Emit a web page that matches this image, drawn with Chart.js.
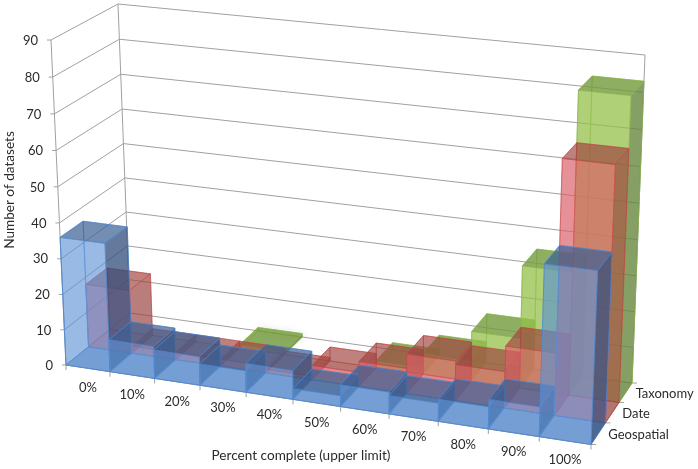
<!DOCTYPE html>
<html><head><meta charset="utf-8">
<style>html,body{margin:0;padding:0;background:#fff}canvas{display:block}</style>
<script src="https://cdn.jsdelivr.net/npm/chart.js@4"></script>
</head><body><canvas id="c" width="698" height="469"></canvas>
<script>
const categories=['0%','10%','20%','30%','40%','50%','60%','70%','80%','90%','100%'];
const depthLabels=['Geospatial','Date','Taxonomy'];
const geospatial=[36,9,8,6,8,3,6,5,6,8,46];
const date=[18,2,2,2,1,4,7,11,10,17,69];
const taxonomy=[0,0,0,1,0,0,2,6,14,34,83];
const valueTicksMax=90, valueTickStep=10;
const xTitle='Percent complete (upper limit)';
const yTitle='Number of datasets';
const FONT='13px Lato';
const TEXT='#2b2b2b';
const GRID='#a0a0a0';
// projection corners of the 3D box
const C={fl0:[66,365],fr0:[591,444.5],bl0:[130,313],br0:[632,383],fl1:[51,40],fr1:[604,99],bl1:[118,4],br1:[645,55]};
const warp=(t,k)=>t/(t+k*(1-t));
function project(u,v,z){
  const a=warp(u,1.094),b=warp(v,1.03),c=warp(z,0.92);
  const f=i=>{
    const f0=C.fl0[i]+(C.fr0[i]-C.fl0[i])*a,b0=C.bl0[i]+(C.br0[i]-C.bl0[i])*a;
    const f1=C.fl1[i]+(C.fr1[i]-C.fl1[i])*a,b1=C.bl1[i]+(C.br1[i]-C.bl1[i])*a;
    const p0=f0+(b0-f0)*c,p1=f1+(b1-f1)*c;
    return p0+(p1-p0)*b;
  };
  return [f(0),f(1)];
}
const palette={
 Geospatial:{front:'rgba(100,155,225,.5)',top:'rgba(62,95,145,.62)',side:'rgba(50,75,120,.68)',hidden:'rgba(60,105,165,.25)',bottom:'rgba(60,105,165,.62)',edge:'rgba(80,135,205,.6)'},
 Date:{front:'rgba(222,95,105,.55)',top:'rgba(150,65,60,.55)',side:'rgba(140,60,55,.55)',hidden:'rgba(200,85,85,.28)',bottom:'rgba(190,80,80,.4)',edge:'rgba(200,70,70,.5)'},
 Taxonomy:{front:'rgba(150,195,75,.68)',top:'rgba(115,155,60,.75)',side:'rgba(100,130,60,.72)',hidden:'rgba(140,175,80,.25)',bottom:'rgba(130,165,80,.35)',edge:'rgba(140,180,80,.6)'}
};
function poly(ctx,pts,fill,edge){
  ctx.beginPath();pts.forEach((p,i)=>i?ctx.lineTo(p[0],p[1]):ctx.moveTo(p[0],p[1]));ctx.closePath();
  ctx.fillStyle=fill;ctx.fill();ctx.strokeStyle=edge;ctx.lineWidth=1;ctx.stroke();
}
function line(ctx,a,b){ctx.beginPath();ctx.moveTo(a[0],a[1]);ctx.lineTo(b[0],b[1]);ctx.stroke();}
const box3d={
 id:'box3d',
 beforeDatasetsDraw(chart){
  const ctx=chart.ctx,ys=chart.scales.y,xs=chart.scales.x,zs=chart.scales.z;
  const h=ys.bottom-ys.top;
  ctx.save();ctx.strokeStyle=GRID;ctx.lineWidth=1;
  ys.ticks.forEach(t=>{
    const v=(ys.bottom-ys.getPixelForValue(t.value))/h;
    const f=project(0,v,0),b=project(0,v,1),r=project(1,v,1);
    line(ctx,f,b);line(ctx,b,r);line(ctx,f,[f[0]-4,f[1]]);
  });
  line(ctx,project(0,0,0),project(0,1,0));
  line(ctx,project(0,0,1),project(0,1,1));
  line(ctx,project(1,0,1),project(1,1,1));
  line(ctx,project(0,0,0),project(1,0,0));
  line(ctx,project(1,0,0),project(1,0,1));
  for(let i=0;i<=categories.length;i++){
    const u=(xs.getPixelForValue(i-.5)-xs.left)/xs.width,p=project(u,0,0);
    line(ctx,p,[p[0],p[1]+5]);
  }
  for(let i=0;i<=depthLabels.length;i++){
    const z=(zs.getPixelForValue(i-.5)-zs.left)/zs.width,p=project(1,0,z);
    line(ctx,p,[p[0]+5,p[1]]);
  }
  ctx.restore();
 },
 beforeDatasetDraw(chart,args){
  const ctx=chart.ctx,ca=chart.chartArea,zs=chart.scales.z,ds=chart.data.datasets[args.index];
  const name=ds.label,col=palette[name];
  const zi=zs.getLabels().indexOf(name);
  const z0=(zs.getPixelForValue(zi-.5)-zs.left)/zs.width,z1=(zs.getPixelForValue(zi+.5)-zs.left)/zs.width;
  ctx.save();ctx.lineJoin='round';
  args.meta.data.forEach((el,i)=>{
    if(!ds.data[i])return;
    const u0=(el.x-el.width/2-ca.left)/ca.width,u1=(el.x+el.width/2-ca.left)/ca.width;
    const v=(ca.bottom-el.y)/ca.height;
    const P=(a,b,c)=>project(a?u1:u0,b?v:0,c?z1:z0);
    if(name==='Taxonomy'&&ds.data[i]<=1){ctx.shadowColor='rgba(0,0,0,.45)';ctx.shadowBlur=9;ctx.shadowOffsetY=2;}
    poly(ctx,[P(0,0,1),P(1,0,1),P(1,1,1),P(0,1,1)],col.hidden,col.edge);
    ctx.shadowColor='transparent';
    poly(ctx,[P(0,0,0),P(0,0,1),P(0,1,1),P(0,1,0)],col.hidden,col.edge);
    poly(ctx,[P(0,0,0),P(1,0,0),P(1,0,1),P(0,0,1)],col.bottom,col.edge);
    poly(ctx,[P(1,0,0),P(1,0,1),P(1,1,1),P(1,1,0)],col.side,col.edge);
    poly(ctx,[P(0,0,0),P(1,0,0),P(1,1,0),P(0,1,0)],col.front,col.edge);
    poly(ctx,[P(0,1,0),P(1,1,0),P(1,1,1),P(0,1,1)],col.top,col.edge);
  });
  ctx.restore();
  return false;
 },
 afterDatasetsDraw(chart){
  const ctx=chart.ctx,ys=chart.scales.y,xs=chart.scales.x,zs=chart.scales.z;
  const h=ys.bottom-ys.top;
  ctx.save();ctx.font=FONT;ctx.fillStyle=TEXT;ctx.textBaseline='middle';
  ctx.textAlign='right';
  ys.ticks.forEach(t=>{
    const v=(ys.bottom-ys.getPixelForValue(t.value))/h,p=project(0,v,0);
    ctx.fillText(String(t.value),p[0]-13,p[1]+.5);
  });
  ctx.textAlign='center';
  categories.forEach((l,i)=>{
    const u=(xs.getPixelForValue(i)-xs.left)/xs.width,p=project(u,0,0);
    ctx.fillText(l,p[0],p[1]+19.5);
  });
  ctx.textAlign='left';
  depthLabels.forEach((l,i)=>{
    const z=(zs.getPixelForValue(i)-zs.left)/zs.width,p=project(1,0,z);
    ctx.fillText(l,p[0]+10,p[1]+1);
  });
  ctx.textAlign='center';
  ctx.font='13.6px Lato';
  ctx.fillText(xTitle,301,456);
  ctx.translate(10,190);ctx.rotate(-Math.PI/2);ctx.fillText(yTitle,0,0);
  ctx.restore();
 }
};
new Chart(document.getElementById('c'),{
 type:'bar',
 data:{labels:categories,datasets:[
  {label:depthLabels[0],data:geospatial},
  {label:depthLabels[1],data:date},
  {label:depthLabels[2],data:taxonomy}]},
 options:{
  responsive:false,animation:false,
  layout:{padding:{left:66,top:40,right:107,bottom:104}},
  datasets:{bar:{grouped:false,barPercentage:1,categoryPercentage:1}},
  plugins:{legend:{display:false},tooltip:{enabled:false}},
  scales:{
   x:{display:false},
   y:{display:false,min:0,max:valueTicksMax,ticks:{stepSize:valueTickStep}},
   z:{axis:'x',type:'category',labels:depthLabels,offset:true,display:false}
  }
 },
 plugins:[box3d]
});
</script></body></html>
